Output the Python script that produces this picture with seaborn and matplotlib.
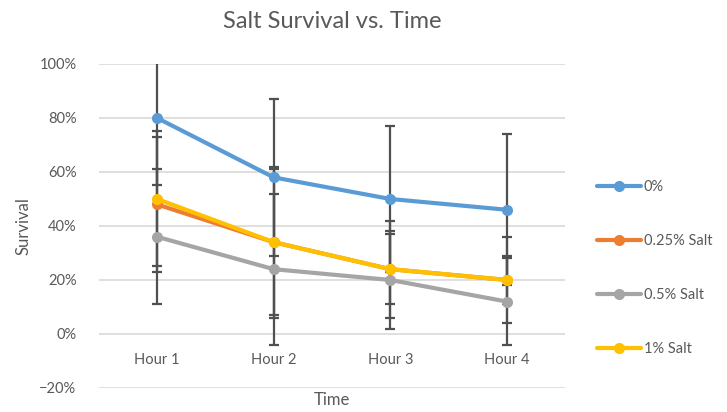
import numpy as np
import pandas as pd
import matplotlib
matplotlib.use("Agg")
import matplotlib.pyplot as plt
import seaborn as sns
from matplotlib.ticker import PercentFormatter

# -----------------------------------
# Data
# -----------------------------------

hours = ["Hour 1", "Hour 2", "Hour 3", "Hour 4"]
series_names = ["0%", "0.25% Salt", "0.5% Salt", "1% Salt"]

survival_0 = [80, 58, 50, 46]
survival_025 = [48, 34, 24, 20]
survival_05 = [36, 24, 20, 12]
survival_1 = [50, 34, 24, 20]

error_0 = [25, 29, 27, 28]
error_025 = [25, 28, 18, 16]
error_05 = [25, 28, 18, 16]
error_1 = [25, 27, 13, 9]

colors = ["#5B9BD5", "#ED7D31", "#A5A5A5", "#FFC000"]

values = [survival_0, survival_025, survival_05, survival_1]
errors = [error_0, error_025, error_05, error_1]

df = pd.DataFrame({
    "Time": hours * len(series_names),
    "Survival": np.concatenate(values),
    "Error": np.concatenate(errors),
    "Series": np.repeat(series_names, len(hours)),
})

# -----------------------------------
# Plot
# -----------------------------------

sns.set_style("white")
plt.rcParams["font.family"] = ["Lato", "DejaVu Sans"]

text_color = "#595959"

fig = plt.figure(figsize=(7.27, 4.12), dpi=100)
ax = fig.add_axes([0.1358, 0.0583, 0.6418, 0.7864])

sns.lineplot(
    data=df,
    x="Time",
    y="Survival",
    hue="Series",
    palette=colors,
    marker="o",
    markersize=8,
    markeredgewidth=0,
    linewidth=3,
    ax=ax,
    zorder=3,
    sort=False
)

# error bars
for name in series_names:
    sub = df[df["Series"] == name]
    ax.errorbar(
        np.arange(len(hours)),
        sub["Survival"],
        yerr=sub["Error"],
        fmt="none",
        ecolor="#505050",
        elinewidth=1.6,
        capsize=3.3,
        capthick=1.6,
        zorder=2
    )

ax.set_xlim(-0.5, len(hours) - 0.5)
ax.set_ylim(-20, 100)
ax.set_yticks(np.arange(-20, 101, 20))
ax.yaxis.set_major_formatter(PercentFormatter(decimals=0))
ax.grid(axis="y", color="#D9D9D9", linewidth=1.2)
ax.set_axisbelow(True)

for side in ["left", "right", "top"]:
    ax.spines[side].set_visible(False)
ax.spines["bottom"].set_position(("data", 0))
ax.spines["bottom"].set_visible(False)

ax.tick_params(axis="both", length=0, labelsize=10.5, colors=text_color)
ax.tick_params(axis="x", pad=14)
ax.tick_params(axis="y", pad=16)

ax.set_title("Salt Survival vs. Time", fontsize=17, color=text_color, pad=26)
ax.title.set_position((0.5, 1.0))
ax.set_xlabel("")
ax.set_ylabel("Survival", fontsize=12, color=text_color, labelpad=6)
fig.text(0.4567, 0.018, "Time", ha="center", fontsize=12, color=text_color)

ax.legend(
    loc="center left",
    bbox_to_anchor=(1.04, 0.37),
    frameon=False,
    fontsize=10.5,
    labelcolor=text_color,
    handlelength=3.0,
    handletextpad=0.2,
    labelspacing=2.75,
    title=None
)

fig.savefig("out.png", dpi=100)
